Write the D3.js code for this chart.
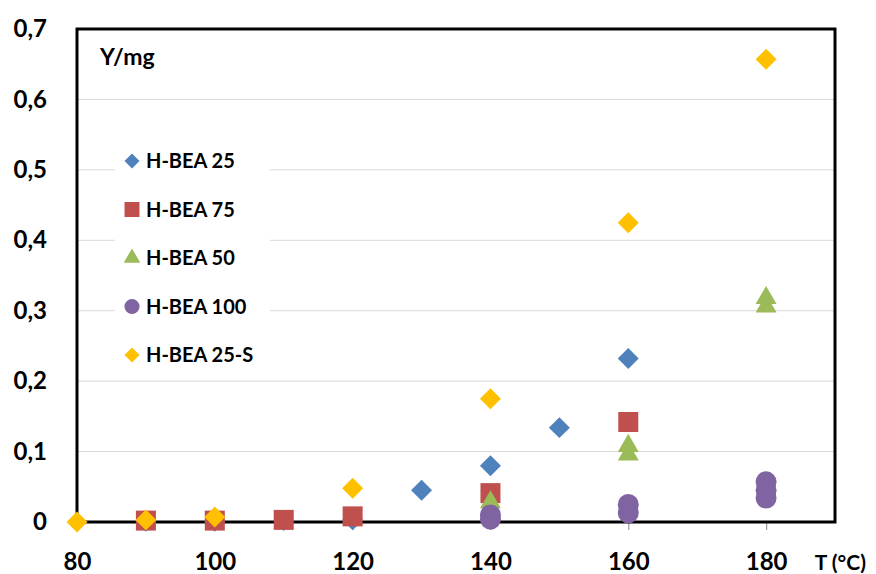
<!DOCTYPE html>
<html>
<head>
<meta charset="utf-8">
<script src="https://cdn.jsdelivr.net/npm/d3@7"></script>
<style>
  body { margin: 0; background: #fff; }
  svg text { font-family: Lato, "Open Sans", sans-serif; font-weight: bold; fill: #000; }
</style>
</head>
<body>
<div id="chart"></div>
<script>
// Data
const seriesNames = ["H-BEA 25", "H-BEA 75", "H-BEA 50", "H-BEA 100", "H-BEA 25-S"];

const tBea25 = [90, 100, 110, 120, 130, 140, 150, 160];
const yBea25 = [0.001, 0.001, 0.002, 0.003, 0.045, 0.080, 0.134, 0.232];

const tBea75 = [90, 100, 110, 120, 140, 160];
const yBea75 = [0.002, 0.002, 0.003, 0.008, 0.041, 0.142];

const tBea50 = [140, 140, 160, 160, 180, 180];
const yBea50 = [0.028, 0.018, 0.108, 0.096, 0.318, 0.306];

const tBea100 = [140, 140, 160, 160, 180, 180, 180];
const yBea100 = [0.010, 0.004, 0.025, 0.013, 0.057, 0.045, 0.034];

const tBea25S = [80, 90, 100, 120, 140, 160, 180];
const yBea25S = [0.000, 0.003, 0.007, 0.048, 0.175, 0.425, 0.657];

const xTicks = [80, 100, 120, 140, 160, 180];
const yTicks = [0, 0.1, 0.2, 0.3, 0.4, 0.5, 0.6, 0.7];

// Set the dimensions of the plot area
const width = 876, height = 574;
const plot = {left: 77, right: 835, top: 29, bottom: 522};

const svg = d3.select("#chart")
  .append("svg")
  .attr("width", width)
  .attr("height", height);

const x = d3.scaleLinear().domain([80, 190]).range([plot.left, plot.right]);
const y = d3.scaleLinear().domain([0, 0.7]).range([plot.bottom, plot.top]);

// Horizontal gridlines
svg.append("g")
  .selectAll("line")
  .data(yTicks.slice(1, -1))
  .enter().append("line")
  .attr("x1", plot.left).attr("x2", plot.right)
  .attr("y1", d => y(d)).attr("y2", d => y(d))
  .attr("stroke", "#d9d9d9")
  .attr("stroke-width", 1);

// X axis (ticks below the line)
const xAxis = svg.append("g")
  .attr("transform", `translate(0,${plot.bottom})`)
  .call(d3.axisBottom(x).tickValues(xTicks).tickSize(8).tickPadding(23).tickFormat(d3.format("d")));
xAxis.select(".domain").remove();
xAxis.selectAll(".tick line").attr("stroke", "#999").attr("stroke-width", 1.2);
xAxis.selectAll("text").style("font-size", "24px");

// Y axis labels
const yAxis = svg.append("g")
  .attr("transform", `translate(${plot.left},0)`)
  .call(d3.axisLeft(y).tickValues(yTicks).tickSize(0).tickPadding(30)
    .tickFormat(d => d === 0 ? "0" : d3.format(".1f")(d).replace(".", ",")));
yAxis.select(".domain").remove();
yAxis.selectAll("text").style("font-size", "24px");

// Frame of the plot area
svg.append("rect")
  .attr("x", plot.left).attr("y", plot.top)
  .attr("width", plot.right - plot.left).attr("height", plot.bottom - plot.top)
  .attr("fill", "none")
  .attr("stroke", "#000")
  .attr("stroke-width", 3);

// Axis titles
svg.append("text").attr("x", 100).attr("y", 65).style("font-size", "23px").text("Y/mg");
svg.append("text").attr("x", 866).attr("y", 570).attr("text-anchor", "end")
  .style("font-size", "21px").text("T (°C)");

// Marker styles
const colors = ["#4F81BD", "#C0504D", "#9BBB59", "#8064A2", "#FFC000"];
const symbols = [d3.symbolSquare, d3.symbolSquare, d3.symbolTriangle, d3.symbolCircle, d3.symbolSquare];
const rotations = [45, 0, 0, 0, 45];
const plotSizes = [220, 400, 190, 346, 220];
const legendSizes = [113, 225, 120, 180, 113];

const series = [
  d3.zip(tBea25, yBea25),
  d3.zip(tBea75, yBea75),
  d3.zip(tBea50, yBea50),
  d3.zip(tBea100, yBea100),
  d3.zip(tBea25S, yBea25S)
];

// Scatter points
series.forEach((pts, i) => {
  svg.append("g")
    .selectAll("path")
    .data(pts)
    .enter().append("path")
    .attr("d", d3.symbol().type(symbols[i]).size(plotSizes[i]))
    .attr("transform", d => `translate(${x(d[0])},${y(d[1])}) rotate(${rotations[i]})`)
    .attr("fill", colors[i]);
});

// Legend
const legend = svg.append("g");
legend.append("rect")
  .attr("x", 115).attr("y", 140).attr("width", 155).attr("height", 233)
  .attr("fill", "#fff");

const legendRows = legend.selectAll("g.row")
  .data(seriesNames)
  .enter().append("g")
  .attr("class", "row")
  .attr("transform", (d, i) => `translate(0,${161 + i * 48.5})`);

legendRows.append("path")
  .attr("d", (d, i) => d3.symbol().type(symbols[i]).size(legendSizes[i])())
  .attr("transform", (d, i) => `translate(132,0) rotate(${rotations[i]})`)
  .attr("fill", (d, i) => colors[i]);

legendRows.append("text")
  .attr("x", 146)
  .attr("dy", "0.36em")
  .style("font-size", "20px")
  .text(d => d);
</script>
</body>
</html>
